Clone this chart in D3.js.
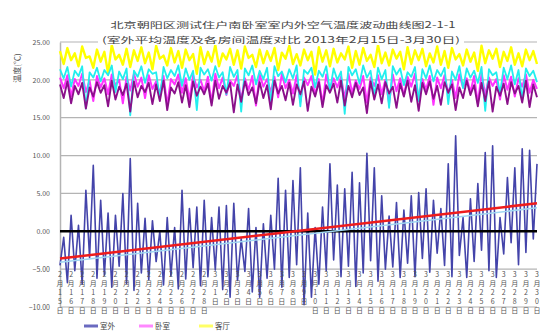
<!DOCTYPE html>
<html>
<head>
<meta charset="utf-8">
<script src="https://cdn.jsdelivr.net/npm/d3@7/dist/d3.min.js"></script>
<style>
  html, body { margin: 0; padding: 0; background: #fff; }
  svg { display: block; }
  text { font-family: "Noto Sans CJK SC", "Noto Sans", sans-serif; }
</style>
</head>
<body>
<div id="chart"></div>
<script>
// Chart text
const titleLines = [
  "北京朝阳区测试住户南卧室室内外空气温度波动曲线图2-1-1",
  "(室外平均温度及各房间温度对比 2013年2月15日-3月30日)"
];
const yTitle = "温度(℃)";

// Date labels, one for every third reading
const tickLabels = [
  "2月15日","2月16日","2月17日","2月18日","2月19日","2月20日","2月21日","2月22日",
  "2月23日","2月24日","2月25日","2月26日","2月27日","2月28日","3月1日","3月2日",
  "3月3日","3月4日","3月5日","3月6日","3月7日","3月8日","3月9日","3月10日",
  "3月11日","3月12日","3月13日","3月14日","3月15日","3月16日","3月17日","3月18日",
  "3月19日","3月20日","3月21日","3月22日","3月23日","3月24日","3月25日","3月26日",
  "3月27日","3月28日","3月29日","3月30日"
];
const tickEvery = 3;

// Y axis ticks
const yTicks = [25, 20, 15, 10, 5, 0, -5, -10];

// Outdoor temperature (室外)
const outdoor = [
  -4.5,-0.8,-6.8,2.1,-5.2,0.8,-7.0,5.4,-3.5,8.7,
  -6.2,4.1,-5.8,2.4,-7.4,2.1,-4.6,5.0,-6.9,9.6,
  -7.8,3.7,-5.5,1.7,-6.4,1.4,-4.0,0.0,-7.1,1.8,
  -5.9,0.5,-7.6,5.4,-6.3,3.0,-4.8,3.2,-7.2,4.1,
  -6.0,1.8,-5.1,3.2,-7.7,3.4,-8.7,3.7,-6.5,-1.0,
  -5.3,3.0,-8.0,0.5,-8.7,1.0,-6.2,2.1,-5.0,7.0,
  -7.4,5.4,-6.1,6.7,-4.4,8.4,-9.7,2.4,-8.7,0.5,
  -7.0,3.2,-5.2,8.9,-3.8,6.1,-6.0,5.6,-4.6,7.8,
  -7.3,6.4,-5.5,10.3,-3.9,8.4,-6.6,4.7,-5.0,2.0,
  -4.7,3.8,-6.1,2.8,-4.2,4.7,-6.0,5.1,-3.6,5.6,
  -5.4,4.1,-2.9,3.0,-4.5,8.9,-6.0,12.6,-3.2,1.8,
  -6.1,4.3,-4.0,6.3,-2.5,10.4,-5.2,11.3,-6.1,1.8,
  -3.0,7.1,-1.5,8.4,-4.4,10.9,-2.8,10.7,-1.0,8.9
];

// Bedroom (卧室)
const bedroom = [
  20.3,18.9,20.6,17.8,20.1,19.2,20.8,18.4,19.9,17.2,
  20.5,19.0,20.2,18.1,20.7,19.3,20.0,16.9,20.4,18.6,
  20.8,19.1,20.3,17.6,20.6,18.8,19.8,18.2,20.5,16.7,
  20.1,19.4,20.7,18.3,20.2,17.4,20.6,19.0,20.0,18.5,
  20.4,17.0,20.8,18.9,20.3,18.0,19.9,19.2,20.6,17.3,
  20.2,18.7,20.5,16.6,20.7,19.1,20.1,18.4,20.4,17.7,
  20.8,18.9,20.0,18.2,20.6,17.1,20.3,19.3,20.5,18.0,
  20.1,16.8,20.7,18.6,20.2,19.0,20.4,17.5,20.8,18.3,
  19.9,18.8,20.5,17.0,20.3,19.2,20.6,18.1,20.0,16.9,
  20.7,18.5,20.2,17.9,20.4,19.1,20.8,17.3,20.1,18.7,
  20.5,16.7,20.3,18.9,20.6,18.2,20.0,17.6,20.7,19.0,
  20.2,18.4,20.5,16.9,20.8,18.0,20.3,19.2,20.1,17.4,
  20.6,18.7,20.4,17.8,20.2,19.1,20.7,18.3,20.0,18.8
];

// Living room (客厅)
const livingRoom = [
  23.8,22.1,24.2,22.6,23.5,21.8,24.4,22.9,23.1,21.6,
  24.0,22.4,23.7,20.9,24.6,22.7,23.3,22.0,24.1,21.7,
  23.9,22.5,24.3,22.2,23.6,21.4,24.5,22.8,23.2,21.9,
  24.2,22.3,23.8,21.6,24.0,22.6,23.4,20.8,24.3,22.1,
  23.7,22.4,24.6,21.8,23.5,22.7,24.1,22.0,23.9,21.5,
  24.4,22.9,23.3,21.7,24.0,22.2,23.8,22.5,24.2,21.3,
  23.6,22.8,24.5,22.1,23.4,21.9,24.0,22.6,23.7,20.7,
  24.3,22.4,23.9,21.8,24.1,22.3,23.5,22.7,24.4,21.6,
  23.8,22.0,24.2,22.5,23.3,21.7,24.6,22.2,23.6,21.9,
  24.0,22.8,23.7,21.4,24.3,22.1,23.9,22.6,24.1,21.8,
  23.5,22.3,24.4,22.0,23.8,21.6,24.2,22.7,23.4,21.9,
  24.0,22.4,23.6,21.2,24.5,22.2,23.9,22.8,24.1,21.7,
  23.7,22.5,24.3,22.0,23.5,21.8,24.0,22.6,23.8,22.1
];

// North room
const northRoom = [
  21.4,20.2,21.7,19.1,21.2,20.5,21.8,16.2,21.0,20.3,
  21.6,19.8,21.3,20.6,21.9,18.4,21.1,20.1,21.5,15.3,
  21.2,20.4,21.8,19.6,21.4,20.8,21.0,17.5,21.7,20.2,
  21.3,20.5,21.9,19.2,21.5,20.0,21.2,16.0,21.6,20.7,
  21.4,19.9,21.8,20.3,21.0,18.1,21.7,20.4,21.3,15.8,
  21.5,20.6,21.9,19.4,21.2,20.1,21.6,17.0,21.8,20.5,
  21.1,19.7,21.4,20.2,21.9,16.5,21.3,20.8,21.6,19.0,
  21.2,20.4,21.8,18.6,21.5,20.0,21.1,15.5,21.7,20.6,
  21.4,19.5,21.9,20.3,21.2,17.8,21.6,20.1,21.3,16.3,
  21.8,20.7,21.5,19.3,21.0,20.4,21.7,17.2,21.4,20.2,
  21.9,19.8,21.3,20.5,21.6,16.8,21.1,20.0,21.8,18.9,
  21.5,20.3,21.2,19.6,21.7,15.9,21.4,20.6,21.0,18.2,
  21.6,20.1,21.9,19.4,21.3,17.4,21.5,20.5,21.2,19.7
];

// Study
const study = [
  19.4,17.6,19.8,16.9,19.2,18.1,19.6,16.2,19.0,17.8,
  19.7,18.3,19.3,16.5,19.9,17.4,19.1,18.0,19.5,15.8,
  19.8,17.7,19.2,18.4,19.6,16.8,19.4,17.2,19.9,16.0,
  19.0,18.2,19.7,17.0,19.3,16.4,19.8,17.9,19.1,18.1,
  19.5,16.6,19.9,17.5,19.2,18.3,19.6,15.7,19.4,17.1,
  19.8,18.0,19.0,16.9,19.7,17.6,19.3,16.1,19.9,18.2,
  19.2,17.3,19.6,16.7,19.4,18.1,19.8,15.9,19.1,17.8,
  19.7,16.4,19.3,18.3,19.5,17.0,19.9,16.6,19.2,17.7,
  19.6,18.0,19.0,15.6,19.8,17.4,19.4,16.9,19.7,18.2,
  19.1,16.3,19.5,17.8,19.9,17.1,19.3,15.9,19.6,18.1,
  19.8,17.5,19.2,16.7,19.7,18.3,19.4,16.0,19.0,17.6,
  19.9,18.0,19.3,16.5,19.6,17.2,19.8,15.8,19.1,17.9,
  19.5,16.8,19.7,18.2,19.2,17.0,19.9,16.4,19.4,17.7
];

// Outdoor linear trend (start, end) and its companion average line
const outdoorTrend = [-3.6, 3.7];
const outdoorAvg = [-4.1, 3.1];

// Legend entries
const legendNames = ["室外", "卧室", "客厅"];

// ---------------------------------------------------------------
const W = 541, H = 334;
const plotLeft = 60, plotRight = 537, plotTop = 42, plotBottom = 307;

const svg = d3.select("#chart").append("svg")
  .attr("width", W).attr("height", H);

const n = outdoor.length;
const x = d3.scaleLinear().domain([0, n - 1]).range([plotLeft, plotRight]);
const y = d3.scaleLinear().domain([-10, 25]).range([plotBottom, plotTop]);

// gridlines
svg.append("g").selectAll("line").data(yTicks).join("line")
  .attr("x1", plotLeft).attr("x2", plotRight)
  .attr("y1", d => y(d)).attr("y2", d => y(d))
  .attr("stroke", "#b4b4b4").attr("stroke-width", 1.2);

// y axis with tick labels
const yAxis = d3.axisLeft(y).tickValues(yTicks).tickSize(0).tickPadding(10)
  .tickFormat(d3.format(".2f"));
const gy = svg.append("g").attr("transform", `translate(${plotLeft},0)`).call(yAxis);
gy.select(".domain").attr("stroke", "#b4b4b4").attr("stroke-width", 1.5);
gy.selectAll("text").attr("font-size", 7).attr("fill", "#555")
  .attr("font-family", "'Liberation Sans', Arial, sans-serif");

// y title
svg.append("text")
  .attr("transform", `translate(20,68) rotate(-90)`)
  .attr("text-anchor", "middle")
  .attr("font-size", 8).attr("fill", "#555")
  .text(yTitle);

const line = d3.line().x((d, i) => x(i)).y(d => y(d));

const series = [
  { data: outdoor,    color: "#4444aa", w: 1.6 },
  { data: bedroom,    color: "#ff33ff", w: 2.0 },
  { data: livingRoom, color: "#ffff00", w: 2.4 },
  { data: northRoom,  color: "#22eeee", w: 1.8 },
  { data: study,      color: "#8a108a", w: 1.9 }
];

svg.append("g").selectAll("path").data(series).join("path")
  .attr("d", s => line(s.data))
  .attr("fill", "none")
  .attr("stroke", s => s.color)
  .attr("stroke-width", s => s.w)
  .attr("stroke-linejoin", "round");

// zero line
svg.append("line")
  .attr("x1", plotLeft).attr("x2", plotRight)
  .attr("y1", y(0)).attr("y2", y(0))
  .attr("stroke", "#000").attr("stroke-width", 2.5);

// trend lines
const trendX = d3.scaleLinear().domain([0, 1]).range([plotLeft, plotRight]);
svg.append("line")
  .attr("x1", trendX(0)).attr("x2", trendX(1))
  .attr("y1", y(outdoorAvg[0])).attr("y2", y(outdoorAvg[1]))
  .attr("stroke", "#9fd6f2").attr("stroke-width", 1.5);
svg.append("line")
  .attr("x1", trendX(0)).attr("x2", trendX(1))
  .attr("y1", y(outdoorTrend[0])).attr("y2", y(outdoorTrend[1]))
  .attr("stroke", "#ee1c1c").attr("stroke-width", 2.5);

// category labels, stacked vertically
const labelG = svg.append("g");
tickLabels.forEach((lab, j) => {
  const t = labelG.append("text")
    .attr("x", x(j * tickEvery))
    .attr("y", 277)
    .attr("text-anchor", "middle")
    .attr("font-size", 7).attr("fill", "#555");
  Array.from(lab).forEach((ch, k) => {
    t.append("tspan").attr("x", x(j * tickEvery))
      .attr("dy", k === 0 ? 0 : 9).text(ch);
  });
});

// title
svg.append("rect").attr("x", 98).attr("y", 33).attr("width", 366).attr("height", 12)
  .attr("fill", "#fff");
svg.append("text").attr("x", 283).attr("y", 28).attr("text-anchor", "middle")
  .attr("font-size", 8.5).attr("fill", "#444")
  .attr("textLength", 345).attr("lengthAdjust", "spacingAndGlyphs")
  .text(titleLines[0]);
svg.append("text").attr("x", 281).attr("y", 43).attr("text-anchor", "middle")
  .attr("font-size", 8.5).attr("fill", "#444")
  .attr("textLength", 358).attr("lengthAdjust", "spacingAndGlyphs")
  .text(titleLines[1]);

// legend
const legendItems = [
  { name: legendNames[0], color: "#6a6ac0", x: 84 },
  { name: legendNames[1], color: "#ff88ff", x: 139 },
  { name: legendNames[2], color: "#ffff66", x: 199 }
];
const lg = svg.append("g").selectAll("g").data(legendItems).join("g")
  .attr("transform", d => `translate(${d.x},326)`);
lg.append("line").attr("x1", 0).attr("x2", 14).attr("y1", 0).attr("y2", 0)
  .attr("stroke", d => d.color).attr("stroke-width", 3);
lg.append("text").attr("x", 16).attr("y", 3).attr("font-size", 7.5).attr("fill", "#444")
  .text(d => d.name);
</script>
</body>
</html>
